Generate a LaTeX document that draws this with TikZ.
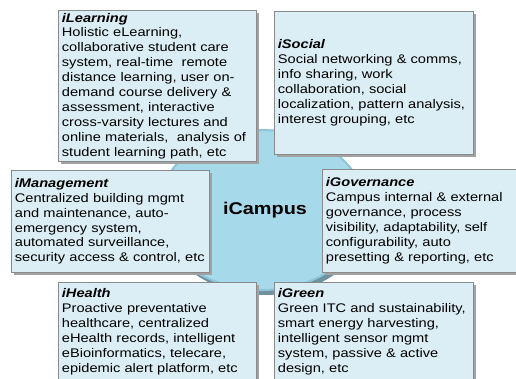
\documentclass[tikz,border=0pt]{standalone}
\usepackage{fontspec}
\setmainfont{Liberation Sans}[FakeStretch=1.17]
\usetikzlibrary{shapes.geometric,shadows}

\definecolor{boxfill}{HTML}{DCEEF5}
\definecolor{boxline}{HTML}{8A8A8A}
\definecolor{boxshade}{HTML}{A2A2A2}
\definecolor{hubfill}{HTML}{A6DAEA}
\definecolor{hubrim}{HTML}{8EC6D9}
\definecolor{hubshade}{HTML}{6E92A0}

\newcommand{\hd}[1]{{\bfseries\itshape #1}}

\tikzset{
  panel/.style={rectangle, draw=boxline, fill=boxfill, line width=0.8pt,
    anchor=north west, align=left, inner xsep=3.5pt, inner ysep=0pt,
    font=\fontsize{12.5}{14.9}\selectfont,
    drop shadow={shadow xshift=2.5pt, shadow yshift=-2.5pt,
      fill=boxshade, opacity=1}},
  hub/.style={ellipse, fill=hubfill, draw=hubrim, line width=2pt,
    minimum width=208pt, minimum height=160pt, inner sep=0pt,
    font=\fontsize{17}{20}\selectfont\bfseries,
    drop shadow={shadow xshift=3pt, shadow yshift=-5pt,
      fill=hubshade, opacity=1}}
}

\begin{document}
\begin{tikzpicture}[x=1pt,y=-1pt]
  \useasboundingbox (0,0) rectangle (516,379);
  \clip (0,0) rectangle (516,379);

  % central hub
  \node[hub] (campus) at (262,210) {\hspace*{6pt}iCampus};

  % surrounding application areas
  \node[panel, text width=191pt, minimum height=151pt] (learn) at (58,10)
    {\hd{iLearning}\\
     Holistic eLearning,\\
     collaborative student care\\
     system, real-time\ \ remote\\
     distance learning, user on-\\
     demand course delivery \&\\
     assessment, interactive\\
     cross-varsity lectures and\\
     online materials,\ \ analysis of\\
     student learning path, etc};

  \node[panel, text width=192pt, minimum height=143pt] (social) at (274,11)
    {\hd{iSocial}\\
     Social networking \& comms,\\
     info sharing, work\\
     collaboration, social\\
     localization, pattern analysis,\\
     interest grouping, etc};

  \node[panel, text width=191pt, minimum height=102pt] (manage) at (11,170)
    {\hd{iManagement}\\
     Centralized building mgmt\\
     and maintenance, auto-\\
     emergency system,\\
     automated surveillance,\\
     security access \& control, etc};

  \node[panel, text width=192pt, minimum height=103pt] (govern) at (322,169)
    {\hd{iGovernance}\\
     Campus internal \& external\\
     governance, process\\
     visibility, adaptability, self\\
     configurability, auto\\
     presetting \& reporting, etc};

  \node[panel, text width=191pt, minimum height=99pt] (health) at (58,282)
    {\hd{iHealth}\\
     Proactive preventative\\
     healthcare, centralized\\
     eHealth records, intelligent\\
     eBioinformatics, telecare,\\
     epidemic alert platform, etc};

  \node[panel, text width=192pt, minimum height=99pt] (green) at (274,282)
    {\hd{iGreen}\\
     Green ITC and sustainability,\\
     smart energy harvesting,\\
     intelligent sensor mgmt\\
     system, passive \& active\\
     design, etc};
\end{tikzpicture}
\end{document}
